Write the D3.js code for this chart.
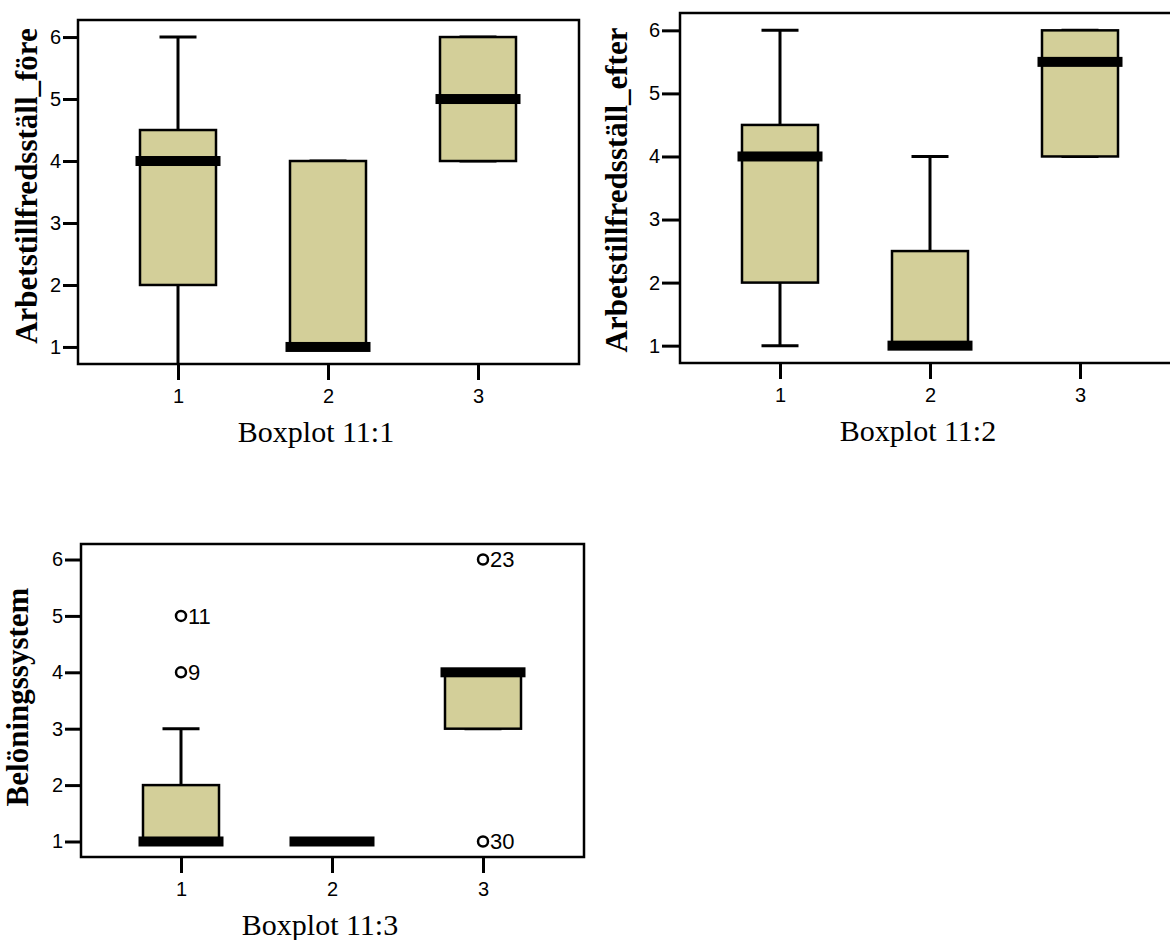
<!DOCTYPE html>
<html>
  <head>
    <meta charset="utf-8">
    <title>Boxplot 11</title>
    <script src="https://cdnjs.cloudflare.com/ajax/libs/d3/7.8.5/d3.min.js"></script>
    <style>
      body { margin: 0; background: #fff; }
      svg { display: block; }
    </style>
  </head>
  <body>

    <script>
      // categories and y ticks shared by all three plots
      var categories = ["1", "2", "3"];
      var yTicks = [1, 2, 3, 4, 5, 6];

      // Boxplot 11:1 - Arbetstillfredsställ_före
      var foreLow    = [0, 1, 4];
      var foreQ1     = [2, 1, 4];
      var foreMedian = [4, 1, 5];
      var foreQ3     = [4.5, 4, 6];
      var foreHigh   = [6, 4, 6];

      // Boxplot 11:2 - Arbetstillfredsställ_efter
      var efterLow    = [1, 1, 4];
      var efterQ1     = [2, 1, 4];
      var efterMedian = [4, 1, 5.5];
      var efterQ3     = [4.5, 2.5, 6];
      var efterHigh   = [6, 4, 6];

      // Boxplot 11:3 - Belöningssystem
      var belLow    = [1, 1, 3];
      var belQ1     = [1, 1, 3];
      var belMedian = [1, 1, 4];
      var belQ3     = [2, 1, 4];
      var belHigh   = [3, 1, 4];
      var belOutlierCat   = ["1", "1", "3", "3"];
      var belOutlierValue = [5, 4, 6, 1];
      var belOutlierCase  = ["11", "9", "23", "30"];

      function boxes(low, q1, med, q3, high) {
        return categories.map(function (c, i) {
          return { cat: c, low: low[i], q1: q1[i], med: med[i], q3: q3[i], high: high[i] };
        });
      }

      var panels = [
        { id: "p1", title: "Boxplot 11:1", yTitle: "Arbetstillfredsställ_före",
          x0: 78, x1: 579, y0: 20, y1: 364, tick: 15, yTitleX: 37, yTitleY: 186,
          data: boxes(foreLow, foreQ1, foreMedian, foreQ3, foreHigh), outliers: [] },
        { id: "p2", title: "Boxplot 11:2", yTitle: "Arbetstillfredsställ_efter",
          x0: 680, x1: 1181, y0: 13, y1: 363, tick: 18, yTitleX: 627, yTitleY: 190,
          data: boxes(efterLow, efterQ1, efterMedian, efterQ3, efterHigh), outliers: [] },
        { id: "p3", title: "Boxplot 11:3", yTitle: "Belöningssystem",
          x0: 81, x1: 584, y0: 544, y1: 857, tick: 16, yTitleX: 28, yTitleY: 697,
          data: boxes(belLow, belQ1, belMedian, belQ3, belHigh),
          outliers: belOutlierCat.map(function (c, i) {
            return { cat: c, v: belOutlierValue[i], label: belOutlierCase[i] };
          }) }
      ];

      var fill = "#d3cf99";
      var boxW = 76, medW = 85, medH = 10, capW = 37;
      var sans = "Liberation Sans, Arial, sans-serif";
      var serif = "Liberation Serif, Times New Roman, serif";

      var svg = d3.select("body").append("svg")
        .attr("width",  1170)
        .attr("height", 940);

      svg.append("rect").attr("width", 1170).attr("height", 940).attr("fill", "#fff");

      panels.forEach(function (p) {
        var x = d3.scalePoint().domain(categories).range([p.x0 + 100, p.x1 - 101]);
        var y = d3.scaleLinear().domain([0.725, 6.275]).range([p.y1, p.y0]);

        var g = svg.append("g");

        svg.append("clipPath").attr("id", "clip-" + p.id)
          .append("rect")
          .attr("x", p.x0).attr("y", p.y0)
          .attr("width", p.x1 - p.x0).attr("height", p.y1 - p.y0);

        var plot = g.append("g").attr("clip-path", "url(#clip-" + p.id + ")");

        // whiskers
        var wk = plot.selectAll(".whisker").data(p.data).enter().append("g");
        wk.append("line")
          .attr("x1", function (d) { return x(d.cat); })
          .attr("x2", function (d) { return x(d.cat); })
          .attr("y1", function (d) { return y(d.q3); })
          .attr("y2", function (d) { return y(d.high); })
          .attr("stroke", "#000").attr("stroke-width", 3);
        wk.append("line")
          .attr("x1", function (d) { return x(d.cat); })
          .attr("x2", function (d) { return x(d.cat); })
          .attr("y1", function (d) { return y(d.q1); })
          .attr("y2", function (d) { return y(d.low); })
          .attr("stroke", "#000").attr("stroke-width", 3);
        ["high", "low"].forEach(function (k) {
          wk.append("line")
            .attr("x1", function (d) { return x(d.cat) - capW / 2; })
            .attr("x2", function (d) { return x(d.cat) + capW / 2; })
            .attr("y1", function (d) { return y(d[k]); })
            .attr("y2", function (d) { return y(d[k]); })
            .attr("stroke", "#000").attr("stroke-width", 3);
        });

        // boxes
        plot.selectAll(".box").data(p.data.filter(function (d) { return d.q3 > d.q1; }))
          .enter().append("rect")
          .attr("x", function (d) { return x(d.cat) - boxW / 2; })
          .attr("y", function (d) { return y(d.q3); })
          .attr("width", boxW)
          .attr("height", function (d) { return y(d.q1) - y(d.q3); })
          .attr("fill", fill)
          .attr("stroke", "#000").attr("stroke-width", 2.5);

        // medians
        plot.selectAll(".median").data(p.data).enter().append("rect")
          .attr("x", function (d) { return x(d.cat) - medW / 2; })
          .attr("y", function (d) { return y(d.med) - medH / 2; })
          .attr("width", medW).attr("height", medH)
          .attr("fill", "#000");

        // outliers
        var out = plot.selectAll(".out").data(p.outliers).enter().append("g");
        out.append("circle")
          .attr("cx", function (d) { return x(d.cat); })
          .attr("cy", function (d) { return y(d.v); })
          .attr("r", 5)
          .attr("fill", "#fff").attr("stroke", "#000").attr("stroke-width", 2.5);
        out.append("text")
          .attr("x", function (d) { return x(d.cat) + 7; })
          .attr("y", function (d) { return y(d.v); })
          .attr("dy", "0.36em")
          .attr("font-family", sans)
          .attr("font-size", 22)
          .text(function (d) { return d.label; });

        // frame
        g.append("rect")
          .attr("x", p.x0).attr("y", p.y0)
          .attr("width", p.x1 - p.x0).attr("height", p.y1 - p.y0)
          .attr("fill", "none").attr("stroke", "#000").attr("stroke-width", 2.5);

        // axes
        var ya = g.append("g").attr("transform", "translate(" + p.x0 + ",0)")
          .call(d3.axisLeft(y).tickValues(yTicks).tickSize(p.tick).tickPadding(2).tickFormat(d3.format("d")));
        var xa = g.append("g").attr("transform", "translate(0," + p.y1 + ")")
          .call(d3.axisBottom(x).tickSize(16).tickPadding(9));
        [ya, xa].forEach(function (a) {
          a.attr("font-size", 20).attr("font-family", sans);
          a.select(".domain").remove();
          a.selectAll("line").attr("stroke", "#000").attr("stroke-width", 3);
          a.selectAll("text").attr("fill", "#000");
        });

        // titles
        g.append("text")
          .attr("x", x("2") - 12).attr("y", p.y1 + 78)
          .attr("text-anchor", "middle")
          .attr("font-family", serif)
          .attr("font-size", 30)
          .text(p.title);

        g.append("text")
          .attr("transform", "translate(" + p.yTitleX + "," + p.yTitleY + ") rotate(-90)")
          .attr("text-anchor", "middle")
          .attr("font-family", serif)
          .attr("font-weight", "bold")
          .attr("font-size", 31)
          .text(p.yTitle);
      });
    </script>

  </body>
</html>
